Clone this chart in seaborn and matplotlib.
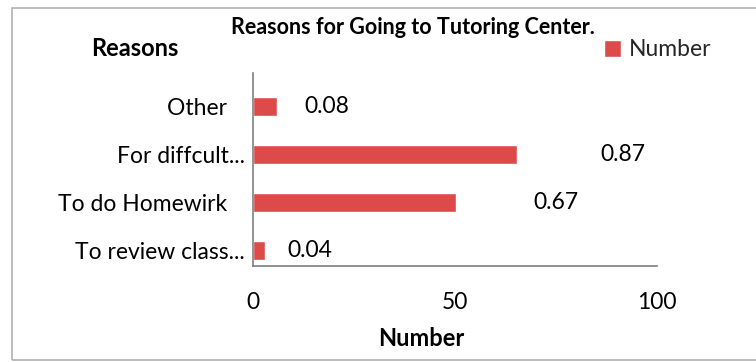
import matplotlib
matplotlib.use("Agg")
import matplotlib.pyplot as plt
from matplotlib.patches import Rectangle
import seaborn as sns
import pandas as pd

# Survey results
reasons = ["Other   ", "For diffcult...", "To do Homewirk   ", "To review class..."]
shares = [0.08, 0.87, 0.67, 0.04]
respondents = 75
x_ticks = [0, 50, 100]

counts = [s * respondents for s in shares]
df = pd.DataFrame({"Reasons": reasons, "Number": counts, "Share": shares})

sns.set_theme(style="white")
plt.rcParams["font.family"] = ["Lato", "DejaVu Sans"]

BAR_RED = "#DC4A4A"
AXIS_GREY = "#7F7F7F"
FS = 16.5

fig = plt.figure(figsize=(7.56, 3.62), dpi=100)
ax = fig.add_axes([253 / 756, 1 - 266 / 362, (657 - 253) / 756, (266 - 73) / 362])

sns.barplot(data=df, x="Number", y="Reasons", orient="h", color=BAR_RED,
            width=0.4, saturation=1, ax=ax, label="Number")

ax.set_xlim(0, 100)
ax.set_ylim(3.33, -0.71)
ax.set_xticks(x_ticks)
ax.set_xticklabels([str(t) for t in x_ticks])

ax.tick_params(axis="x", length=0, pad=19, labelsize=FS, colors="black")
ax.tick_params(axis="y", length=0, pad=6, labelsize=FS, colors="black")

for side in ("top", "right"):
    ax.spines[side].set_visible(False)
for side in ("left", "bottom"):
    ax.spines[side].set_color(AXIS_GREY)
    ax.spines[side].set_linewidth(1.2)

# Data labels, pushed out to the right of each bar
label_dx = [27, 84, 77, 22]
for i, (cnt, share) in enumerate(zip(counts, shares)):
    ax.annotate(f"{share:.2f}", xy=(cnt, i), xytext=(label_dx[i], 0),
                textcoords="offset pixels", ha="left", va="center",
                fontsize=FS, color="black")

ax.set_xlabel("")
ax.set_ylabel("")
fig.text(421 / 756, 1 - 338 / 362, "Number", ha="center", va="center",
         fontsize=17, fontweight="bold", color="black")
fig.text(135 / 756, 1 - 49 / 362, "Reasons", ha="center", va="center",
         fontsize=17, fontweight="bold", color="black")
fig.text(413 / 756, 1 - 27 / 362, "Reasons for Going to Tutoring Center.",
         ha="center", va="center", fontsize=15.5, fontweight="bold", color="black")

handles, labels = ax.get_legend_handles_labels()
if ax.get_legend() is not None:
    ax.get_legend().remove()
fig.legend(handles[:1], ["Number"], loc="center left",
           bbox_to_anchor=(604 / 756, 1 - 50 / 362), frameon=False,
           fontsize=FS, handlelength=0.75, handleheight=0.75, handletextpad=0.35,
           borderaxespad=0, borderpad=0)

# Chart area border
fig.add_artist(Rectangle((12 / 756, 2 / 362), 1.0, 1 - 10 / 362,
                         transform=fig.transFigure, fill=False,
                         edgecolor="#B0B0B0", linewidth=1.2))

fig.savefig("out.png", dpi=100)
